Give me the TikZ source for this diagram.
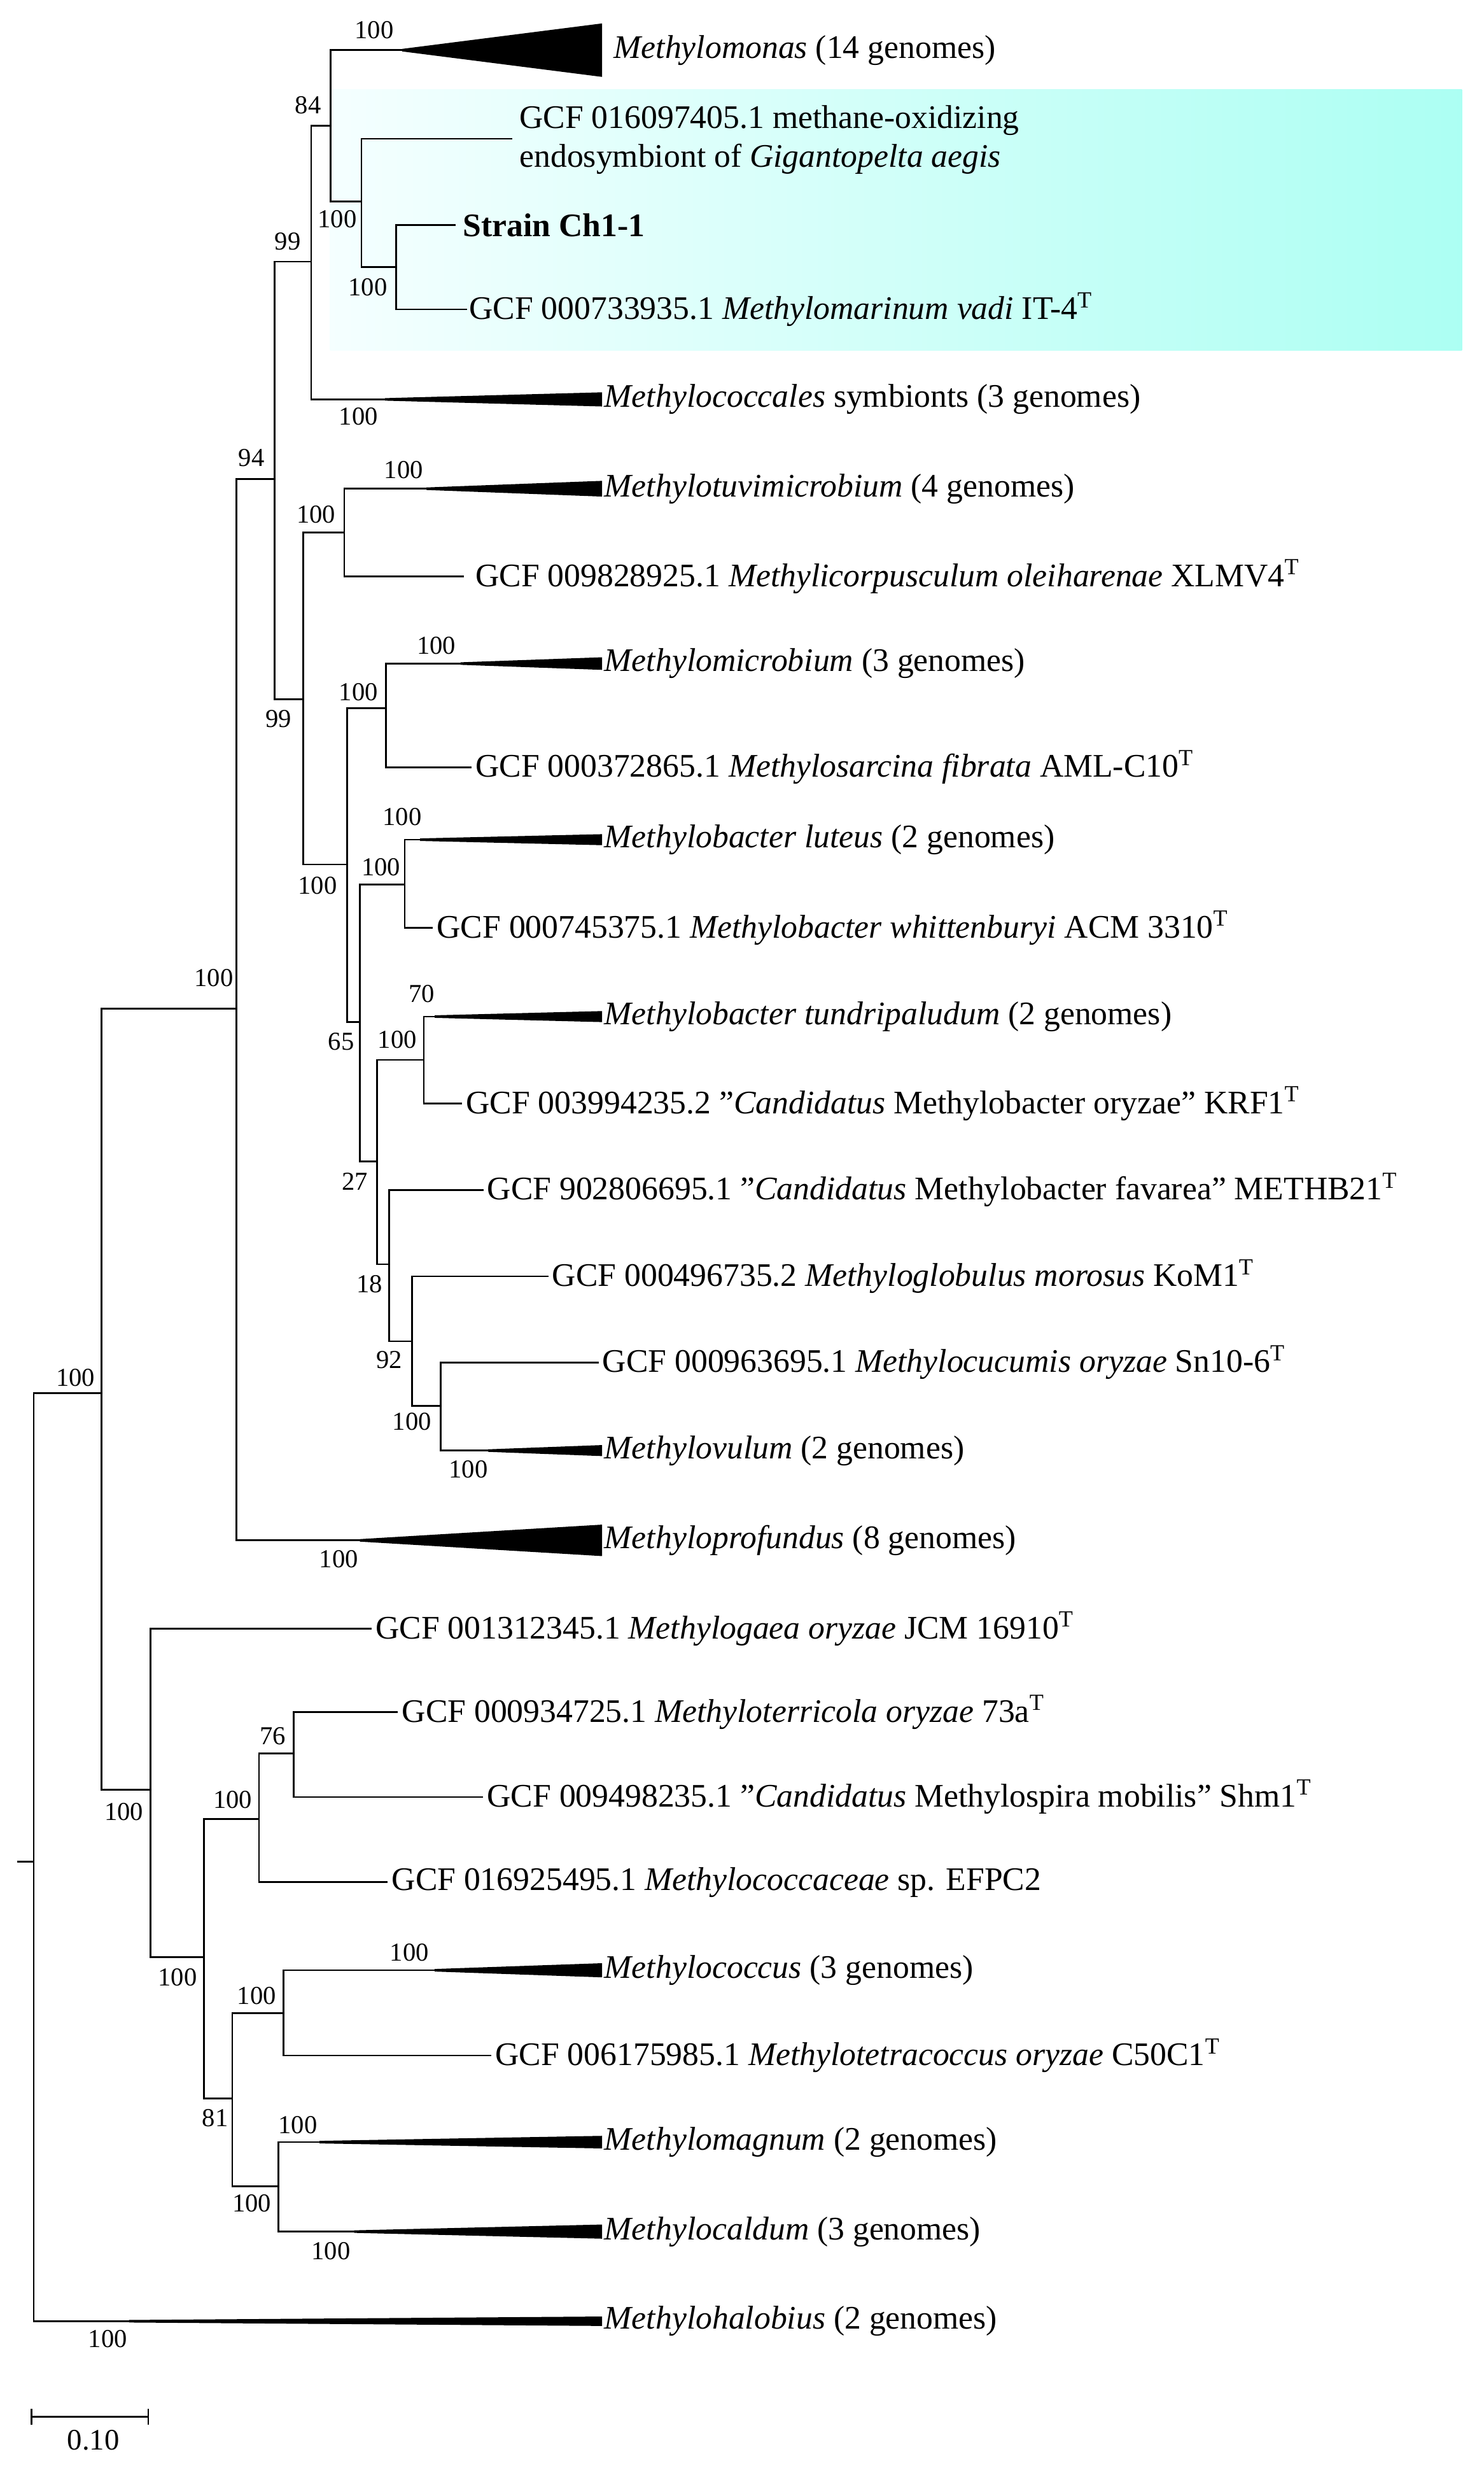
\documentclass[tikz,border=0pt]{standalone}
\usepackage{fontspec}
\setmainfont{Liberation Serif}
\begin{document}
\begin{tikzpicture}[x=1bp,y=-1bp,line width=1.1bp,
  leaf/.style={anchor=west,inner sep=0pt,font=\fontsize{21}{25}\selectfont},
  bs/.style={inner sep=0pt,font=\fontsize{16.5}{19}\selectfont}]
\useasboundingbox (0,0) rectangle (944,1574);
\shade[left color=cyan!4,right color=cyan!35!green!10!white!75!cyan] (210,57) rectangle (930,223);
\newcommand{\clade}[3]{\fill (#1,#2-0.8) -- (383,#2-#3) -- (383,#2+#3) -- (#1,#2+0.8) -- cycle;}
% internal nodes
\coordinate (R) at (21.4,1183.8);
\coordinate (stub) at (10.8,1183.8);
\coordinate (B) at (64.6,886);
\coordinate (C) at (150.4,641.5);
\coordinate (N94) at (174.8,304.6);
\coordinate (N99a) at (198,166.4);
\coordinate (N84) at (210.3,80);
\coordinate (Na) at (230,128);
\coordinate (Nb) at (252,169.8);
\coordinate (N99b) at (192.8,444.7);
\coordinate (Nc) at (219,338.7);
\coordinate (Nd) at (220.7,549.8);
\coordinate (Ne) at (245.5,450.3);
\coordinate (N65) at (229,649.9);
\coordinate (Nf) at (257.5,562.6);
\coordinate (N27) at (239.9,738.5);
\coordinate (Ng) at (269.6,674);
\coordinate (N18) at (247.5,804);
\coordinate (N92) at (262,853);
\coordinate (Nh) at (280.2,894);
\coordinate (Ni) at (95.6,1138.3);
\coordinate (Nj) at (129.7,1244.6);
\coordinate (Nk) at (164.8,1156.9);
\coordinate (N76) at (186.8,1115);
\coordinate (N81) at (147.8,1334.6);
\coordinate (Nl) at (180.3,1280.3);
\coordinate (Nm) at (177,1390.4);
% tips
\coordinate (tMonas) at (255.8,31.9);
\coordinate (tG016) at (326,88.3);
\coordinate (tStrain) at (290,143.2);
\coordinate (tG733) at (297,196.8);
\coordinate (tCoccal) at (245,254);
\coordinate (tTuvi) at (271.3,310.8);
\coordinate (tG9828) at (295,366.6);
\coordinate (tMicro) at (293,422);
\coordinate (tG3728) at (300,488);
\coordinate (tLut) at (267.2,534);
\coordinate (tG745) at (275.4,590.1);
\coordinate (tTun) at (276.5,646.5);
\coordinate (tG3994) at (294,701.9);
\coordinate (tG9028) at (307.5,756.7);
\coordinate (tG4967) at (348.8,811.7);
\coordinate (tG9636) at (380.8,866.5);
\coordinate (tOvul) at (310.5,922.5);
\coordinate (tProf) at (229,979.6);
\coordinate (tG1312) at (236.4,1035.8);
\coordinate (tG9347) at (253.2,1088.9);
\coordinate (tG9498) at (307.4,1142.8);
\coordinate (tG16925) at (246.7,1197);
\coordinate (tCoccus) at (276.4,1253);
\coordinate (tG6175) at (312.6,1307.2);
\coordinate (tMagn) at (203.3,1362.3);
\coordinate (tCald) at (225.3,1419.2);
\coordinate (tHalo) at (82.1,1476.2);
% branches
\draw (stub) -- (R);
\draw (R) |- (B); \draw (R) |- (tHalo);
\draw (B) |- (C); \draw (B) |- (Ni);
\draw (C) |- (N94); \draw (C) |- (tProf);
\draw (N94) |- (N99a); \draw (N94) |- (N99b);
\draw (N99a) |- (N84); \draw (N99a) |- (tCoccal);
\draw (N84) |- (tMonas); \draw (N84) |- (Na);
\draw (Na) |- (tG016); \draw (Na) |- (Nb);
\draw (Nb) |- (tStrain); \draw (Nb) |- (tG733);
\draw (N99b) |- (Nc); \draw (N99b) |- (Nd);
\draw (Nc) |- (tTuvi); \draw (Nc) |- (tG9828);
\draw (Nd) |- (Ne); \draw (Nd) |- (N65);
\draw (Ne) |- (tMicro); \draw (Ne) |- (tG3728);
\draw (N65) |- (Nf); \draw (N65) |- (N27);
\draw (Nf) |- (tLut); \draw (Nf) |- (tG745);
\draw (N27) |- (Ng); \draw (N27) |- (N18);
\draw (Ng) |- (tTun); \draw (Ng) |- (tG3994);
\draw (N18) |- (tG9028); \draw (N18) |- (N92);
\draw (N92) |- (tG4967); \draw (N92) |- (Nh);
\draw (Nh) |- (tG9636); \draw (Nh) |- (tOvul);
\draw (Ni) |- (tG1312); \draw (Ni) |- (Nj);
\draw (Nj) |- (Nk); \draw (Nj) |- (N81);
\draw (Nk) |- (N76); \draw (Nk) |- (tG16925);
\draw (N76) |- (tG9347); \draw (N76) |- (tG9498);
\draw (N81) |- (Nl); \draw (N81) |- (Nm);
\draw (Nl) |- (tCoccus); \draw (Nl) |- (tG6175);
\draw (Nm) |- (tMagn); \draw (Nm) |- (tCald);
% collapsed clades
\clade{255.8}{31.9}{17}
\clade{245}{254}{4.5}
\clade{271.3}{310.8}{5}
\clade{293}{422}{4}
\clade{267.2}{534}{3.5}
\clade{276.5}{646.5}{3.5}
\clade{310.5}{922.5}{3.5}
\clade{229}{979.6}{10}
\clade{276.4}{1253}{4.5}
\clade{203.3}{1362.3}{4}
\clade{225.3}{1419.2}{4.5}
\clade{82.1}{1476.2}{3}
% leaf labels
\node[leaf] (lMonas) at (390,31.9) {\textit{Methylomonas} (14 genomes)};
\node[leaf,align=left] (lG016) at (330,89) {GCF 016097405.1 methane-oxidizing\\endosymbiont of \textit{Gigantopelta aegis}};
\node[leaf] (lStrain) at (tStrain) [xshift=4bp] {\textbf{Strain Ch1-1}};
\node[leaf] (lG733) at (tG733) [xshift=1bp] {GCF 000733935.1 \textit{Methylomarinum vadi} IT-4\textsuperscript{T}};
\node[leaf] (lCoccal) at (384,254) {\textit{Methylococcales} symbionts (3 genomes)};
\node[leaf] (lTuvi) at (384,310.8) {\textit{Methylotuvimicrobium} (4 genomes)};
\node[leaf] (lG9828) at (tG9828) [xshift=7bp] {GCF 009828925.1 \textit{Methylicorpusculum oleiharenae} XLMV4\textsuperscript{T}};
\node[leaf] (lMicro) at (384,422) {\textit{Methylomicrobium} (3 genomes)};
\node[leaf] (lG3728) at (tG3728) [xshift=2bp] {GCF 000372865.1 \textit{Methylosarcina fibrata} AML-C10\textsuperscript{T}};
\node[leaf] (lLut) at (384,534) {\textit{Methylobacter luteus} (2 genomes)};
\node[leaf] (lG745) at (tG745) [xshift=2bp] {GCF 000745375.1 \textit{Methylobacter whittenburyi} ACM 3310\textsuperscript{T}};
\node[leaf] (lTun) at (384,646.5) {\textit{Methylobacter tundripaludum} (2 genomes)};
\node[leaf] (lG3994) at (tG3994) [xshift=2bp] {GCF 003994235.2 "\textit{Candidatus} Methylobacter oryzae" KRF1\textsuperscript{T}};
\node[leaf] (lG9028) at (tG9028) [xshift=2bp] {GCF 902806695.1 "\textit{Candidatus} Methylobacter favarea" METHB21\textsuperscript{T}};
\node[leaf] (lG4967) at (tG4967) [xshift=2bp] {GCF 000496735.2 \textit{Methyloglobulus morosus} KoM1\textsuperscript{T}};
\node[leaf] (lG9636) at (tG9636) [xshift=2bp] {GCF 000963695.1 \textit{Methylocucumis oryzae} Sn10-6\textsuperscript{T}};
\node[leaf] (lOvul) at (384,922.5) {\textit{Methylovulum} (2 genomes)};
\node[leaf] (lProf) at (384,979.6) {\textit{Methyloprofundus} (8 genomes)};
\node[leaf] (lG1312) at (tG1312) [xshift=2bp] {GCF 001312345.1 \textit{Methylogaea oryzae} JCM 16910\textsuperscript{T}};
\node[leaf] (lG9347) at (tG9347) [xshift=2bp] {GCF 000934725.1 \textit{Methyloterricola oryzae} 73a\textsuperscript{T}};
\node[leaf] (lG9498) at (tG9498) [xshift=2bp] {GCF 009498235.1 "\textit{Candidatus} Methylospira mobilis" Shm1\textsuperscript{T}};
\node[leaf] (lG16925) at (tG16925) [xshift=2bp] {GCF 016925495.1 \textit{Methylococcaceae} sp. EFPC2};
\node[leaf] (lCoccus) at (384,1253) {\textit{Methylococcus} (3 genomes)};
\node[leaf] (lG6175) at (tG6175) [xshift=2bp] {GCF 006175985.1 \textit{Methylotetracoccus oryzae} C50C1\textsuperscript{T}};
\node[leaf] (lMagn) at (384,1362.3) {\textit{Methylomagnum} (2 genomes)};
\node[leaf] (lCald) at (384,1419.2) {\textit{Methylocaldum} (3 genomes)};
\node[leaf] (lHalo) at (384,1476.2) {\textit{Methylohalobius} (2 genomes)};
% bootstrap values
\foreach \n/\x/\y/\t in {b1/238/19/100,b2/196/67/84,b3/214.5/139.4/100,b4/234/182.8/100,
 b5/183/153.4/99,b6/228/265/100,b7/160/291/94,b8/177.3/457/99,b9/256.8/299/100,
 b10/201/327/100,b11/277.5/410.6/100,b12/228/440/100,b13/202/563.2/100,b14/242.4/551.5/100,
 b15/255.8/519.6/100,b16/217/662.3/65,b17/225.8/751.3/27,b18/252.7/661.3/100,b19/268.2/632/70,
 b20/235/816.8/18,b21/247.5/864.8/92,b22/262/904/100,b23/298/934.3/100,b24/136/622/100,
 b25/215.5/991.4/100,b26/48/876/100,b27/78.8/1152.3/100,b28/112.9/1257.5/100,b29/148/1144.7/100,
 b30/173.6/1104/76,b31/136.9/1347/81,b32/163.3/1269.3/100,b33/260.4/1241.5/100,b34/160.2/1401/100,
 b35/189.4/1351.6/100,b36/210.5/1431.4/100,b37/68.5/1487.6/100}
 {\node[bs] (\n) at (\x,\y) {\t};}
% scale bar
\coordinate (s1) at (19.9,1537);
\coordinate (s2) at (94.3,1537);
\draw (s1) -- (s2);
\draw ([yshift=-5bp]s1) -- ([yshift=5bp]s1);
\draw ([yshift=-5bp]s2) -- ([yshift=5bp]s2);
\node[bs,font=\fontsize{19}{22}\selectfont] (sl) at (59.4,1552) {0.10};
\end{tikzpicture}
\end{document}
